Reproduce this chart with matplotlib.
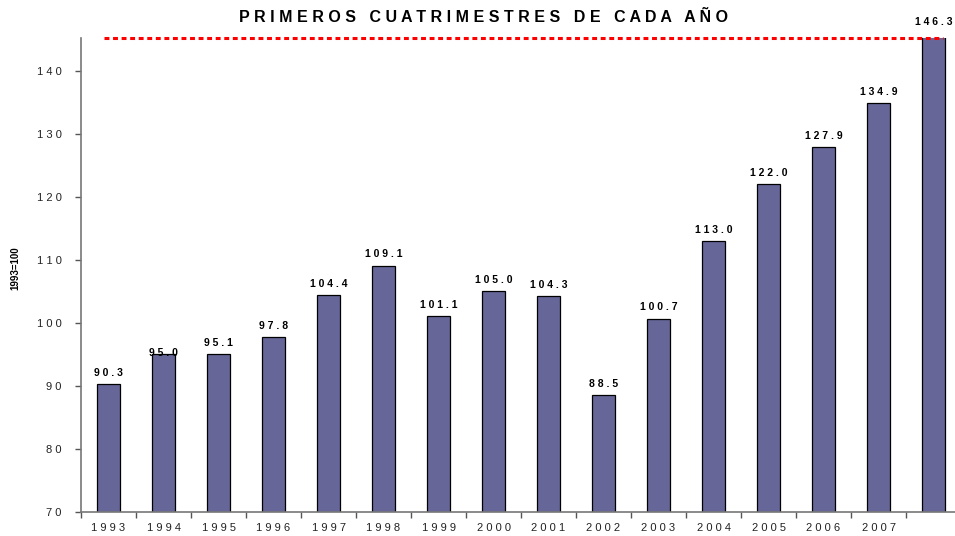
import numpy as np
import matplotlib
matplotlib.use('Agg')
import matplotlib.pyplot as plt

plt.rcParams.update({'font.family': ['Liberation Sans', 'DejaVu Sans']})

years = ['1993', '1994', '1995', '1996', '1997', '1998', '1999', '2000',
         '2001', '2002', '2003', '2004', '2005', '2006', '2007', '']
values = [90.3, 95.0, 95.1, 97.8, 104.4, 109.1, 101.1, 105.0,
          104.3, 88.5, 100.7, 113.0, 122.0, 127.9, 134.9, 146.3]
ref_level = 145.3
yticks = [70, 80, 90, 100, 110, 120, 130, 140]


def spaced(s):
    return ' '.join(s)


fig = plt.figure(figsize=(9.55, 5.36), dpi=100)
ax = fig.add_axes([81 / 955, 24 / 536, 880 / 955, 474.4 / 536])

x = np.arange(len(values))
ax.bar(x, values, width=0.41, color='#666699', edgecolor='black', lw=0.9,
       zorder=2)

ax.set_xlim(-0.5, len(values) - 0.5)
ax.set_ylim(70, ref_level)

# value labels
for i, v in enumerate(values):
    yy = v + 1.0
    if i == 1:
        yy = v - 0.6
    if v > ref_level:
        yy = 147.0
    ax.text(i, yy, spaced(f'{v:.1f}'), ha='center', va='bottom',
            fontsize=7.5, fontweight='bold', clip_on=False)

# red dotted reference line
ax.plot([-0.08, 15.17], [ref_level, ref_level], color='red', ls=(0, (1.6, 1.2)),
        lw=2.2, clip_on=False, zorder=3)

ax.set_yticks(yticks)
ax.set_yticklabels([spaced(str(t)) for t in yticks], fontsize=8, color='#222222')
ax.set_xticks(x)
ax.set_xticklabels([spaced(y) for y in years], fontsize=8, color='#222222')
ax.set_xticks(np.arange(len(values) + 1) - 0.5, minor=True)
ax.tick_params(axis='x', which='major', length=0, pad=8)
ax.tick_params(axis='x', which='minor', length=4, width=1, color='#555555')
ax.tick_params(axis='y', length=4, width=1, color='#555555', pad=10)

for s in ['top', 'right']:
    ax.spines[s].set_visible(False)
for s in ['left', 'bottom']:
    ax.spines[s].set_color('#777777')
    ax.spines[s].set_linewidth(1.2)

fig.text(15 / 955, 0.5, '1993=100', rotation=90, ha='center', va='center',
         fontsize=7, fontweight='bold')
fig.text(483 / 955, 1 - 18 / 536, 'P R I M E R O S   C U A T R I M E S T R E S   D E   C A D A   A Ñ O',
         ha='center', va='center', fontsize=11.5, fontweight='bold')

fig.savefig('out.png', dpi=100)
